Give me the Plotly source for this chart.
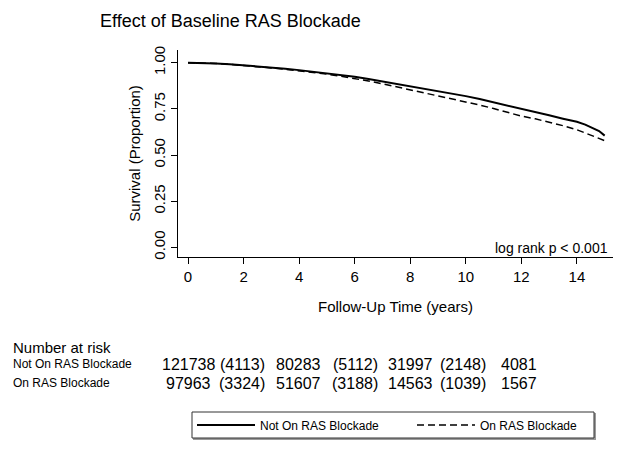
import plotly.graph_objects as go

# ---------------- data ----------------
time_not_on = [0, 0.5, 1, 1.5, 2, 2.5, 3, 3.5, 4, 4.5, 5, 5.5, 6, 6.5, 7, 7.5, 8, 8.5, 9, 9.5,
               10, 10.5, 11, 11.5, 12, 12.5, 13, 13.5, 14, 14.3, 14.6, 14.8, 15]
surv_not_on = [1.000, 0.999, 0.996, 0.992, 0.987, 0.981, 0.975, 0.968, 0.960, 0.952, 0.943, 0.934,
               0.924, 0.912, 0.899, 0.885, 0.870, 0.858, 0.846, 0.833, 0.819, 0.803, 0.786, 0.767,
               0.749, 0.732, 0.715, 0.697, 0.680, 0.665, 0.645, 0.630, 0.605]

time_on = [0, 0.5, 1, 1.5, 2, 2.5, 3, 3.5, 4, 4.5, 5, 5.5, 6, 6.5, 7, 7.5, 8, 8.5, 9, 9.5,
           10, 10.5, 11, 11.5, 12, 12.5, 13, 13.5, 14, 14.5, 15]
surv_on = [1.000, 0.999, 0.996, 0.991, 0.986, 0.979, 0.972, 0.965, 0.957, 0.948, 0.938, 0.927,
           0.915, 0.901, 0.886, 0.870, 0.854, 0.839, 0.823, 0.807, 0.790, 0.771, 0.752, 0.731,
           0.711, 0.696, 0.679, 0.659, 0.637, 0.609, 0.578]

series_names = ["Not On RAS Blockade", "On RAS Blockade"]
x_ticks = [0, 2, 4, 6, 8, 10, 12, 14]
y_ticks = [0, 0.25, 0.5, 0.75, 1.0]

risk_title = "Number at risk"
risk_not_on = ["121738", "(4113)", "80283", "(5112)", "31997", "(2148)", "4081"]
risk_on = ["97963", "(3324)", "51607", "(3188)", "14563", "(1039)", "1567"]

# ---------------- layout geometry (pixels) ----------------
W, H = 624, 452
ML, MR, MT, MB = 178, 11, 50, 195
PW = W - ML - MR
PH = H - MT - MB


def px(xp):
    return (xp - ML) / PW


def py(yp):
    return (H - MB - yp) / PH


FONT = "Liberation Sans, Arial, sans-serif"
BLACK = "#000000"

fig = go.Figure()
fig.add_trace(go.Scatter(x=time_not_on, y=surv_not_on, mode="lines", name=series_names[0],
                         line=dict(color=BLACK, width=2), legend="legend"))
fig.add_trace(go.Scatter(x=time_on, y=surv_on, mode="lines", name=series_names[1],
                         line=dict(color=BLACK, width=1.5, dash="7px,4px"), legend="legend2"))

annotations = []
annotations.append(dict(text="log rank p < 0.001", xref="paper", yref="paper",
                        x=px(610), y=py(248), xanchor="right", yanchor="middle",
                        showarrow=False, font=dict(size=14, color=BLACK, family=FONT)))
annotations.append(dict(text=risk_title, xref="paper", yref="paper", x=px(11), y=py(347),
                        xanchor="left", yanchor="middle", showarrow=False,
                        font=dict(size=15, color=BLACK, family=FONT)))
row_y = [364, 383]
for name, yy in zip(series_names, row_y):
    annotations.append(dict(text=name, xref="paper", yref="paper", x=px(11), y=py(yy),
                            xanchor="left", yanchor="middle", showarrow=False,
                            font=dict(size=12, color=BLACK, family=FONT)))
col_x = [188.5, 242, 298, 355, 410, 462.5, 519]
for row, yy in zip([risk_not_on, risk_on], row_y):
    for val, xx in zip(row, col_x):
        annotations.append(dict(text=val, xref="paper", yref="paper", x=px(xx), y=py(yy),
                                xanchor="center", yanchor="middle", showarrow=False,
                                font=dict(size=16, color=BLACK, family=FONT)))

shapes = [
    # legend frame shadow and frame
    dict(type="rect", xref="paper", yref="paper", x0=px(193), x1=px(596), y0=py(413), y1=py(440),
         line=dict(width=0), fillcolor="#9a9a9a", layer="below"),
    dict(type="rect", xref="paper", yref="paper", x0=px(192), x1=px(594), y0=py(412), y1=py(438),
         line=dict(color="#333333", width=1), fillcolor="white", layer="below"),
]

legend_common = dict(orientation="h", xref="paper", yref="paper", y=py(425),
                     xanchor="left", yanchor="middle", borderwidth=0,
                     bgcolor="rgba(0,0,0,0)", itemwidth=58,
                     font=dict(size=12, color=BLACK, family=FONT))

fig.update_layout(
    width=W, height=H,
    margin=dict(l=ML, r=MR, t=MT, b=MB, pad=0),
    paper_bgcolor="white", plot_bgcolor="white",
    font=dict(family=FONT, color=BLACK),
    title=dict(text="Effect of Baseline RAS Blockade", x=100 / W, xref="container",
               xanchor="left", y=1 - 21 / H, yref="container", yanchor="middle",
               font=dict(size=18, color=BLACK, family=FONT)),
    xaxis=dict(range=[-0.36, 15.3], tickvals=x_ticks, ticks="outside", ticklen=6,
               tickcolor=BLACK, showline=True, linecolor=BLACK, linewidth=1,
               showgrid=False, zeroline=False, tickfont=dict(size=15, color=BLACK),
               title=dict(text="Follow-Up Time (years)", font=dict(size=15, color=BLACK),
                          standoff=17)),
    yaxis=dict(range=[-0.0525, 1.069], tickvals=y_ticks, tickformat=".2f", tickangle=-90,
               ticks="outside", ticklen=6, tickcolor=BLACK, showline=True, linecolor=BLACK,
               linewidth=1, showgrid=False, zeroline=False,
               tickfont=dict(size=15, color=BLACK),
               title=dict(text="Survival (Proportion)", font=dict(size=15, color=BLACK),
                          standoff=6)),
    legend=dict(x=px(192), **legend_common),
    legend2=dict(x=px(412), **legend_common),
    showlegend=True,
    annotations=annotations,
    shapes=shapes,
)

fig.write_html("out.html", config={"displayModeBar": False},
               post_script="document.body.style.margin='0';document.body.style.overflow='hidden';")
